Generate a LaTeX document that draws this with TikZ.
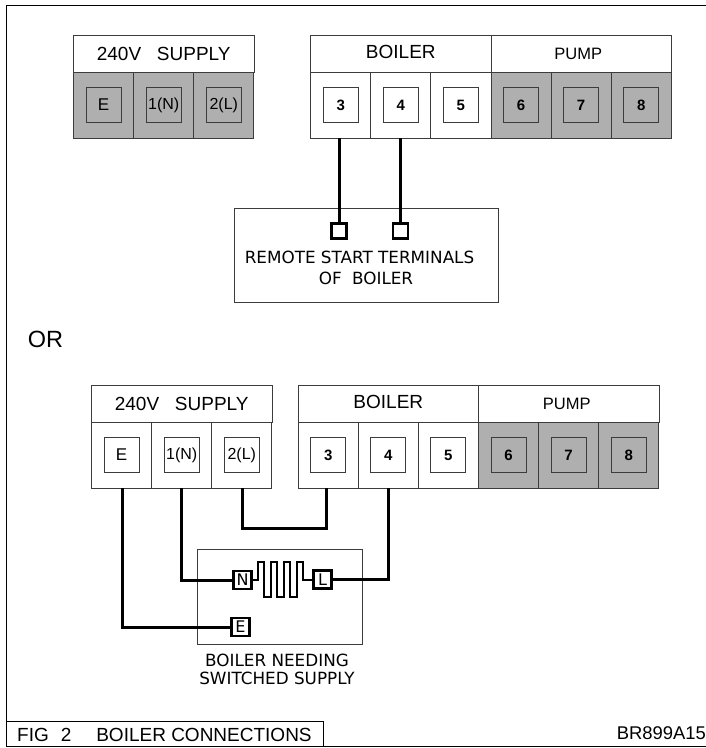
\documentclass[tikz,border=0pt]{standalone}
\usepackage{fontspec}
\setmainfont{Liberation Sans}
\newfontfamily\plate{DejaVu Sans}
\usetikzlibrary{positioning}
\definecolor{panel}{HTML}{AFAFAF}
\definecolor{edge}{HTML}{3C3C3C}
\begin{document}
\begin{tikzpicture}[x=1pt,y=-1pt,node distance=60.1pt,
    head/.style={rectangle,draw=edge,line width=.9pt,minimum width=180.5pt,minimum height=37pt,inner sep=0pt,outer sep=0pt,font=\fontsize{19}{19}\selectfont},
    pump head/.style={head,font=\fontsize{16.5}{16}\selectfont},
    cell/.style={rectangle,draw=edge,line width=.9pt,minimum width=60.1pt,minimum height=66pt,inner sep=0pt,outer sep=0pt},
    grey cell/.style={cell,fill=panel},
    term/.style={rectangle,draw=edge,line width=.9pt,minimum size=35pt,inner sep=0pt,font=\fontsize{17}{17}\selectfont},
    num/.style={font=\fontsize{15}{15}\selectfont\bfseries},
    small/.style={font=\fontsize{16}{16}\selectfont},
    pad/.style={rectangle,draw,line width=2.8pt,minimum size=18pt,inner sep=0pt,fill=white,font=\plate\fontsize{16}{16}\selectfont},
    plate box/.style={rectangle,draw=edge,line width=.9pt,inner sep=0pt,outer sep=0pt},
    caption/.style={font=\plate\fontsize{16.8}{17}\selectfont,inner sep=0pt},
    strip text/.style={font=\fontsize{19}{19}\selectfont,inner sep=0pt},
    wire/.style={line width=3pt,line join=miter}]
  \useasboundingbox (0,0) rectangle (706,748);
  \draw[line width=1pt] (706,5) -- (6,5) -- (6,746) -- (706,746);

  % upper strip
  \node[head] (supA) at (163.7,53.5) {240V\hspace{.55em} SUPPLY};
  \node[grey cell] (eA) at (103.6,105) {};
  \node[grey cell] (nA) [right of=eA] {};
  \node[grey cell] (lA) [right of=nA] {};
  \node[term] (teA) at (eA) {E};
  \node[term,small] (tnA) at (nA) {1(N)};
  \node[term,small] (tlA) at (lA) {2(L)};

  \node[head] (boiA) at (400.8,53.5) {\raisebox{3pt}{BOILER}};
  \node[pump head] (pumA) at (581.2,53.5) {\hspace{-6pt}PUMP};
  \node[cell] (c3A) at (340.7,105) {};
  \node[cell] (c4A) [right of=c3A] {};
  \node[cell] (c5A) [right of=c4A] {};
  \node[grey cell] (c6A) [right of=c5A] {};
  \node[grey cell] (c7A) [right of=c6A] {};
  \node[grey cell] (c8A) [right of=c7A] {};
  \node[term,num] (t3A) at (c3A) {3};
  \node[term,num] (t4A) at (c4A) {4};
  \node[term,num] (t5A) at (c5A) {5};
  \node[term,num] (t6A) at (c6A) {6};
  \node[term,num] (t7A) at (c7A) {7};
  \node[term,num] (t8A) at (c8A) {8};

  % remote start plate
  \node[plate box,minimum width=264pt,minimum height=94pt] (remote) at (366,255) {};
  \node[pad,minimum size=15pt] (r3) at (339,231) {};
  \node[pad,minimum size=15pt] (r4) at (400.5,231) {};
  \node[caption] (rtext) at (359.5,257) {REMOTE START TERMINALS};
  \node[caption] (rtextb) at (366,278) {OF\hspace{.3em} BOILER};
  \draw[wire] (r3 |- c3A.south) -- (r3.north);
  \draw[wire] (r4 |- c4A.south) -- (r4.north);

  \node[font=\fontsize{23.5}{24}\selectfont,inner sep=0pt] (or) at (45.5,339) {OR};

  % lower strip
  \node[head] (supB) at (181.7,403.5) {240V\hspace{.55em} SUPPLY};
  \node[cell] (eB) at (121.6,455) {};
  \node[cell] (nB) [right of=eB] {};
  \node[cell] (lB) [right of=nB] {};
  \node[term] (teB) at (eB) {E};
  \node[term,small] (tnB) at (nB) {1(N)};
  \node[term,small] (tlB) at (lB) {2(L)};

  \node[head] (boiB) at (388.3,403.5) {\raisebox{3pt}{BOILER}};
  \node[pump head] (pumB) at (568.8,403.5) {\hspace{-4pt}PUMP};
  \node[cell] (c3B) at (328.2,455) {};
  \node[cell] (c4B) [right of=c3B] {};
  \node[cell] (c5B) [right of=c4B] {};
  \node[grey cell] (c6B) [right of=c5B] {};
  \node[grey cell] (c7B) [right of=c6B] {};
  \node[grey cell] (c8B) [right of=c7B] {};
  \node[term,num] (t3B) at (c3B) {3};
  \node[term,num] (t4B) at (c4B) {4};
  \node[term,num] (t5B) at (c5B) {5};
  \node[term,num] (t6B) at (c6B) {6};
  \node[term,num] (t7B) at (c7B) {7};
  \node[term,num] (t8B) at (c8B) {8};

  % switched supply plate
  \node[plate box,minimum width=165pt,minimum height=95pt] (sw) at (279.5,596.5) {};
  \node[pad] (pN) at (242.5,580) {N};
  \node[pad] (pL) at (322.5,579.5) {L};
  \node[pad] (pE) at (240.5,627) {E};
  \node[caption] (swtext) at (277,660) {BOILER NEEDING};
  \node[caption] (swtextb) at (277,678) {SWITCHED SUPPLY};
  \draw[line width=2pt] (pN.east) -- ++(5,0) -- ++(0,-18.5) -- ++(6.5,0) -- ++(0,35)
    -- ++(6.5,0) -- ++(0,-35) -- ++(6.5,0) -- ++(0,35) -- ++(6.5,0) -- ++(0,-35)
    -- ++(6.5,0) -- ++(0,35) -- ++(6.5,0) -- ++(0,-35) -- ++(6.5,0) -- ++(0,18) -- (pL.west);

  \coordinate (wE) at (122,488);
  \coordinate (wN) at (181,488);
  \coordinate (wL) at (242,488);
  \coordinate (w3) at (326,488);
  \coordinate (w4) at (388,488);
  \draw[wire] (wE) |- (pE.west);
  \draw[wire] (wN) |- (pN.west);
  \draw[wire] (w4) |- (pL.east);
  \draw[wire] (wL) -- ++(0,40) -| (w3);

  % title strip
  \node[rectangle,draw,line width=1pt,minimum width=317pt,minimum height=25pt,inner sep=0pt,outer sep=0pt] (title) at (164.5,733.5) {};
  \node[strip text,anchor=west] (figno) at (17,735) {FIG\hspace{.35em} 2};
  \node[strip text] (figname) at (204,735) {BOILER CONNECTIONS};
  \node[font=\fontsize{18.4}{18}\selectfont,inner sep=0pt,anchor=east] (code) at (706,733) {BR899A15};
\end{tikzpicture}
\end{document}
